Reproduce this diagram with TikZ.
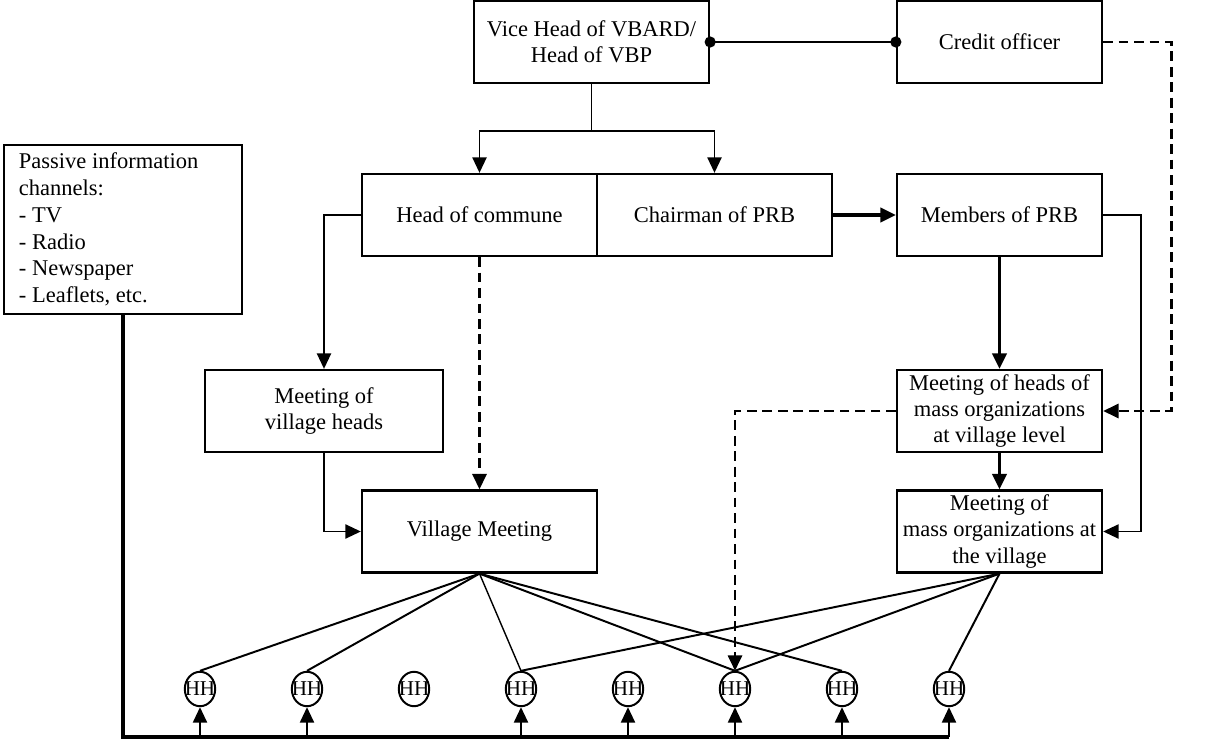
\documentclass[tikz,border=0pt]{standalone}
\usepackage{fontspec}
\setmainfont{Liberation Serif}
\usetikzlibrary{arrows.meta, shapes.geometric}

\begin{document}
\begin{tikzpicture}[
    x=0.025cm, y=-0.025cm, >={Triangle[length=11pt,width=10pt]},
    bnode/.style={rectangle, draw, line width=1.6pt, align=center, inner ysep=1pt, minimum height=2.05cm, font=\fontsize{16}{18.5}\selectfont},
    wnode/.style={bnode, minimum width=5.875cm},
    nnode/.style={bnode, minimum width=5.125cm},
    hnode/.style={ellipse, draw, line width=1.4pt, minimum width=0.76cm, minimum height=0.86cm, inner sep=0pt, font=\fontsize{15}{15}\selectfont},
    conn/.style={line width=1.4pt},
    thk/.style={line width=2.5pt},
    dsh/.style={line width=2pt, dash pattern=on 7pt off 4pt},
  ]
  \useasboundingbox (0,0) rectangle (1205,742);

  \node[wnode] (vice)    at (591.5,42)  {Vice Head of VBARD/\\Head of VBP};
  \node[nnode] (credit)  at (999.5,42)  {Credit officer};
  \node[wnode] (commune) at (479.5,215) {Head of commune};
  \node[wnode] (chair)   at (714.5,215) {Chairman of PRB};
  \node[nnode] (members) at (999.5,215) {Members of PRB};
  \node[bnode, minimum width=5.95cm, minimum height=4.225cm, text width=5.2cm, align=flush left,
        font=\fontsize{16}{19}\selectfont] (passive) at (123,229.5)
        {Passive information\\channels:\\- TV\\- Radio\\- Newspaper\\- Leaflets, etc.};
  \node[bnode, minimum width=5.95cm] (vheads) at (324,411) {Meeting of\\village heads};
  \node[wnode] (village)  at (479.5,531.5) {Village Meeting};
  \node[nnode] (mheads)   at (999.5,411)   {Meeting of heads of\\mass organizations\\at village level};
  \node[nnode] (morgs)    at (999.5,531.5) {Meeting of\\mass organizations at\\the village};
  \foreach \i in {1,...,8}
    \node[hnode] (hh\i) at ({200+107*(\i-1)},689) {\makebox[0pt]{HH}};

  % top level
  \draw[conn] (vice.east) -- (credit.west);
  \fill (vice.east) circle (0.14cm);
  \fill (credit.west) circle (0.14cm);
  \draw[conn,->] (vice.south) -- ++(0,47) -| (commune.north);
  \draw[conn,->] (vice.south) -- ++(0,47) -| (chair.north);
  \draw[thk,->] (chair.east) -- (members.west);

  % commune side
  \draw[conn,->] (commune.west) -| (vheads.north);
  \draw[conn,->] (vheads.south) |- (village.west);
  \draw[dsh,->] (commune.south) -- (village.north);

  % PRB side
  \draw[thk,->] (members.south) -- (mheads.north);
  \draw[thk,->] (mheads.south) -- (morgs.north);
  \draw[conn,->] (members.east) -- ++(38,0) |- (morgs.east);
  \draw[dsh,->] (credit.east) -- ++(68,0) |- (mheads.east);
  \draw[dsh,->] (mheads.west) -| (hh6.north);

  % households
  \foreach \i in {1,2,6,7}
    \draw[conn] (village.south) -- (hh\i.north);
  \draw[line width=1pt] (village.south) -- (hh4.north);
  \foreach \i in {4,6,8}
    \draw[conn] (morgs.south) -- (hh\i.north);

  % passive channels
  \coordinate (busend) at (949,737);
  \draw[thk] (passive.south) |- (busend);
  \foreach \i in {1,2,4,5,6,7,8}
    \draw[conn,->] (hh\i.south |- busend) -- (hh\i.south);
\end{tikzpicture}
\end{document}
